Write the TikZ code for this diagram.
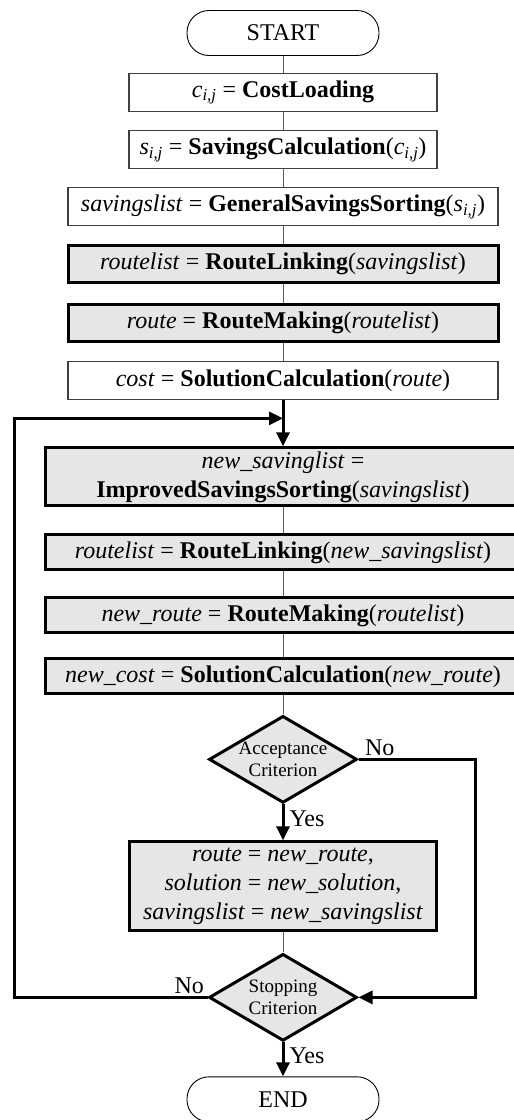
\documentclass[tikz,border=0pt]{standalone}
\usepackage{fontspec}
\setmainfont{Liberation Serif}
\usepackage{xcolor}
\usetikzlibrary{positioning,arrows.meta,shapes.geometric}

\definecolor{boxgray}{HTML}{E6E6E6}
\definecolor{linegray}{HTML}{606060}

\newcommand{\fname}[1]{\textbf{#1}}
\newcommand{\vname}[1]{\textit{#1}}
\newcommand{\subij}{\textsubscript{\textit{i,j}}}

\begin{document}
\begin{tikzpicture}[
    x=1pt, y=1pt,
    node distance=18pt,
    >={Triangle[length=14pt,width=13pt]},
    terminal/.style={rectangle, rounded corners=22pt, draw=black, line width=0.9pt, minimum width=192pt, minimum height=45pt, font=\fontsize{24}{29}\selectfont},
    plain/.style={rectangle, draw=black!75, line width=1.1pt, fill=white, minimum height=38pt, inner sep=0pt, align=center, font=\fontsize{24}{29}\selectfont},
    shaded/.style={rectangle, draw=black, line width=3pt, fill=boxgray, minimum height=37pt, inner sep=0pt, align=center, font=\fontsize{24}{29}\selectfont},
    decision/.style={diamond, aspect=1.7, draw=black, line width=3pt, fill=boxgray, inner sep=0pt, minimum width=148pt, minimum height=87pt, align=center, font=\fontsize{19}{22}\selectfont},
    tie/.style={draw=linegray, line width=1pt},
    flow/.style={->, draw=black, line width=3pt},
    lbl/.style={font=\fontsize{24}{28}\selectfont, inner sep=2pt}
]
\useasboundingbox (0,0) rectangle (514,-1120);

% initial construction
\node[terminal] (start) at (283,-33) {START};
\node[plain, minimum width=308pt, below=17pt of start] (load) {\vname{c}\subij{} = \fname{CostLoading}};
\node[plain, minimum width=308pt, below=of load] (calc) {\vname{s}\subij{} = \fname{SavingsCalculation}(\vname{c}\subij)};
\node[plain, minimum width=430pt, below=of calc] (sort) {\vname{savingslist} = \fname{GeneralSavingsSorting}(\vname{s}\subij)};
\node[shaded, minimum width=430pt, below=of sort] (linking) {\vname{routelist} = \fname{RouteLinking}(\vname{savingslist})};
\node[shaded, minimum width=430pt, below=19pt of linking] (making) {\vname{route} = \fname{RouteMaking}(\vname{routelist})};
\node[plain, minimum width=430pt, below=of making] (cost) {\vname{cost} = \fname{SolutionCalculation}(\vname{route})};

% improvement loop
\coordinate[below=18pt of cost] (join);
\node[shaded, minimum width=475pt, minimum height=58pt, below=46pt of cost] (improve) {\vname{new\_savinglist} =\\\fname{ImprovedSavingsSorting}(\vname{savingslist})};
\node[shaded, minimum width=475pt, minimum height=35pt, below=26pt of improve] (relink) {\vname{routelist} = \fname{RouteLinking}(\vname{new\_savingslist})};
\node[shaded, minimum width=475pt, minimum height=35pt, below=25pt of relink] (remake) {\vname{new\_route} = \fname{RouteMaking}(\vname{routelist})};
\node[shaded, minimum width=475pt, minimum height=35pt, below=23pt of remake] (recost) {\vname{new\_cost} = \fname{SolutionCalculation}(\vname{new\_route})};
\node[decision, below=19pt of recost] (accept) {Acceptance\\Criterion};
\node[shaded, minimum width=307pt, minimum height=89pt, below=36pt of accept] (update) {\vname{route} = \vname{new\_route},\\\vname{solution} = \vname{new\_solution},\\\vname{savingslist} = \vname{new\_savingslist}};
\node[decision, below=20pt of update] (stop) {Stopping\\Criterion};
\node[terminal, below=34pt of stop] (finish) {END};

% connectors
\draw[tie] (start) -- (load);
\draw[tie] (load) -- (calc);
\draw[tie] (calc) -- (sort);
\draw[tie] (sort) -- (linking);
\draw[tie] (linking) -- (making);
\draw[tie] (making) -- (cost);
\draw[flow] (cost) -- (improve);
\draw[tie] (improve) -- (relink);
\draw[tie] (relink) -- (remake);
\draw[tie] (remake) -- (recost);
\draw[tie] (recost) -- (accept);
\draw[flow] (accept) -- node[lbl, right, xshift=3pt, pos=0.4] {Yes} (update);
\draw[tie] (update) -- (stop);
\draw[flow] (stop) -- node[lbl, right, xshift=3pt, pos=0.4] {Yes} (finish);

% the two "No" branches
\draw[flow] (accept.east) -- node[lbl, above right, xshift=3pt, pos=0] {No} ++(117,0) |- (stop.east);
\draw[flow] (stop.west) -- node[lbl, above left, pos=0] {No} ++(-193,0) |- (join);

\end{tikzpicture}
\end{document}
